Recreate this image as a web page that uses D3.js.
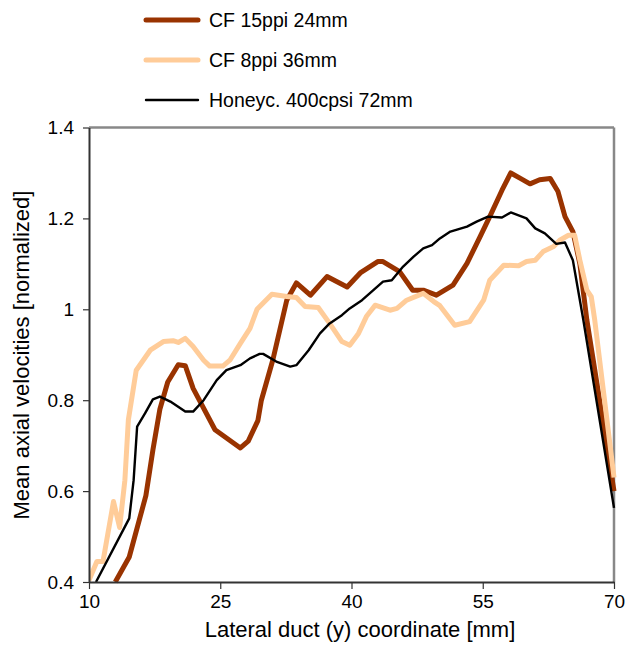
<!DOCTYPE html>
<html>
<head>
<meta charset="utf-8">
<script src="https://cdn.jsdelivr.net/npm/d3@7"></script>
<style>
  body { margin: 0; background: #fff; }
  svg text { font-family: "Liberation Sans", Arial, sans-serif; fill: #000; }
</style>
</head>
<body>
<svg width="626" height="645"></svg>
<script>
// lateral coordinate [mm] and normalized velocity
var cf15X = [13, 14.6, 16.5, 17.3, 18.1, 19, 20.2, 21, 21.9, 24.4, 27.3, 28.2, 29.3, 29.7, 31, 32.6, 33.7, 35.3, 37.2, 39.5, 41, 43, 43.6, 45.5, 47, 48.2, 49.7, 51.6, 53.2, 54.7, 55.8, 57.2, 58.2, 59.3, 60.4, 61.5, 62.7, 63.6, 64.4, 65.3, 66.1, 66.9, 70];
var cf15Y = [0.40, 0.455, 0.59, 0.69, 0.78, 0.84, 0.878, 0.876, 0.826, 0.735, 0.695, 0.71, 0.755, 0.80, 0.888, 1.02, 1.058, 1.031, 1.072, 1.049, 1.08, 1.105, 1.105, 1.083, 1.042, 1.042, 1.031, 1.053, 1.101, 1.16, 1.204, 1.262, 1.30, 1.288, 1.276, 1.285, 1.288, 1.259, 1.204, 1.171, 1.10, 0.976, 0.60];

var cf8X = [10, 10.9, 11.6, 12.8, 13.5, 14.1, 14.5, 15.4, 17, 18.5, 19.6, 20.2, 21, 21.9, 23.1, 23.8, 25.3, 26.1, 27.3, 28.4, 29.2, 30.9, 32.6, 33.7, 34.7, 36.2, 37.5, 38.9, 39.8, 40.8, 41.7, 42.7, 44.4, 45.2, 46.3, 48.2, 49.4, 50.1, 51.8, 53.5, 55.1, 55.8, 57.4, 59.1, 60, 61, 61.9, 63.1, 63.8, 64.8, 65.5, 66.1, 66.9, 67.4, 67.8, 70];
var cf8Y = [0.404, 0.445, 0.445, 0.577, 0.52, 0.624, 0.757, 0.866, 0.91, 0.929, 0.931, 0.927, 0.936, 0.918, 0.888, 0.875, 0.875, 0.888, 0.925, 0.958, 1.0, 1.033, 1.028, 1.026, 1.006, 1.004, 0.969, 0.929, 0.921, 0.947, 0.984, 1.009, 0.998, 1.002, 1.02, 1.035, 1.017, 1.008, 0.965, 0.973, 1.02, 1.064, 1.097, 1.096, 1.105, 1.108, 1.127, 1.138, 1.152, 1.163, 1.163, 1.108, 1.042, 1.028, 0.976, 0.63];

var honeyX = [10.8, 14.6, 15.1, 15.5, 16.4, 17.3, 18.1, 19.3, 21, 21.9, 23.1, 24.6, 25.7, 27.3, 28.4, 29.5, 29.9, 31.4, 33, 33.7, 35.1, 36.4, 37.5, 38.9, 39.8, 41.2, 42.5, 43.6, 44.6, 45.9, 47.1, 48.2, 49.2, 50.1, 51.3, 53.2, 54.3, 55.6, 57.2, 58.2, 60, 61, 62.1, 63.4, 64.4, 65.3, 66.5, 70];
var honeyY = [0.40, 0.54, 0.624, 0.742, 0.771, 0.802, 0.808, 0.797, 0.775, 0.775, 0.80, 0.844, 0.866, 0.877, 0.892, 0.902, 0.902, 0.885, 0.874, 0.877, 0.91, 0.947, 0.969, 0.987, 1.002, 1.02, 1.042, 1.061, 1.064, 1.094, 1.116, 1.134, 1.141, 1.156, 1.171, 1.182, 1.193, 1.204, 1.202, 1.213, 1.20, 1.178, 1.167, 1.144, 1.147, 1.108, 0.976, 0.563];

var seriesNames = ["CF 15ppi 24mm", "CF 8ppi 36mm", "Honeyc. 400cpsi 72mm"];
var xTicks = [10, 25, 40, 55, 70];
var yTicks = [0.4, 0.6, 0.8, 1.0, 1.2, 1.4];

var svg = d3.select("svg");
// plot box (note: "top" is reserved on window, so use plot* names)
var plotL = 89, plotR = 614, plotT = 127.5, plotB = 582;

var x = d3.scaleLinear().domain([10, 70]).range([plotL, plotR]);
var y = d3.scaleLinear().domain([0.4, 1.4]).range([plotB, plotT]);

var series = [
  { name: seriesNames[0], xs: cf15X, ys: cf15Y, color: "#993300", width: 5 },
  { name: seriesNames[1], xs: cf8X, ys: cf8Y, color: "#ffcc99", width: 5 },
  { name: seriesNames[2], xs: honeyX, ys: honeyY, color: "#000", width: 2.4 }
];

// frame: grey top/right, dark left/bottom axes
svg.append("line").attr("x1", plotL).attr("x2", plotR).attr("y1", plotT).attr("y2", plotT)
  .attr("stroke", "#888").attr("stroke-width", 2.5);
svg.append("line").attr("x1", plotR).attr("x2", plotR).attr("y1", plotT).attr("y2", plotB)
  .attr("stroke", "#888").attr("stroke-width", 2.5);

svg.append("clipPath").attr("id", "plotclip")
  .append("rect").attr("x", plotL).attr("y", plotT - 5).attr("width", plotR - plotL + 3).attr("height", plotB - plotT + 8);

var line = d3.line()
  .x(function(d) { return x(d[0]); })
  .y(function(d) { return y(d[1]); });

var g = svg.append("g").attr("clip-path", "url(#plotclip)");
series.forEach(function(s) {
  var pts = s.xs.map(function(v, i) { return [v, s.ys[i]]; });
  g.append("path")
    .datum(pts)
    .attr("d", line)
    .attr("fill", "none")
    .attr("stroke", s.color)
    .attr("stroke-width", s.width)
    .attr("stroke-linejoin", "round");
});

// axes
var xAxis = d3.axisBottom(x).tickValues(xTicks).tickSize(7).tickSizeOuter(0).tickPadding(6);
var gx = svg.append("g").attr("transform", "translate(0," + plotB + ")").call(xAxis);
gx.select(".domain").attr("stroke", "#333").attr("stroke-width", 2);
gx.selectAll(".tick line").attr("stroke", "#333").attr("stroke-width", 1.2);
gx.selectAll("text").attr("font-size", 19).style("font-family", "Liberation Sans, Arial, sans-serif");

var yAxis = d3.axisLeft(y).tickValues(yTicks).tickSize(6).tickSizeOuter(0).tickPadding(9)
  .tickFormat(function(d) { return d3.format("")(+d.toFixed(1)); });
var gy = svg.append("g").attr("transform", "translate(" + plotL + ",0)").call(yAxis);
gy.select(".domain").attr("stroke", "#333").attr("stroke-width", 2);
gy.selectAll(".tick line").attr("stroke", "#333").attr("stroke-width", 1.2);
gy.selectAll("text").attr("font-size", 19).style("font-family", "Liberation Sans, Arial, sans-serif");

// axis titles
svg.append("text")
  .attr("x", 360).attr("y", 637)
  .attr("text-anchor", "middle").attr("font-size", 22)
  .text("Lateral duct (y) coordinate [mm]");
svg.append("text")
  .attr("transform", "translate(29,355) rotate(-90)")
  .attr("text-anchor", "middle").attr("font-size", 22)
  .text("Mean axial velocities [normalized]");

// legend
var legend = svg.append("g");
series.forEach(function(s, i) {
  var ly = 20 + i * 40;
  legend.append("line")
    .attr("x1", 146).attr("x2", 198).attr("y1", ly).attr("y2", ly)
    .attr("stroke", s.color).attr("stroke-width", s.width)
    .attr("stroke-linecap", "round");
  legend.append("text")
    .attr("x", 209).attr("y", ly).attr("dy", "0.35em")
    .attr("font-size", 19.5)
    .text(s.name);
});
</script>
</body>
</html>
